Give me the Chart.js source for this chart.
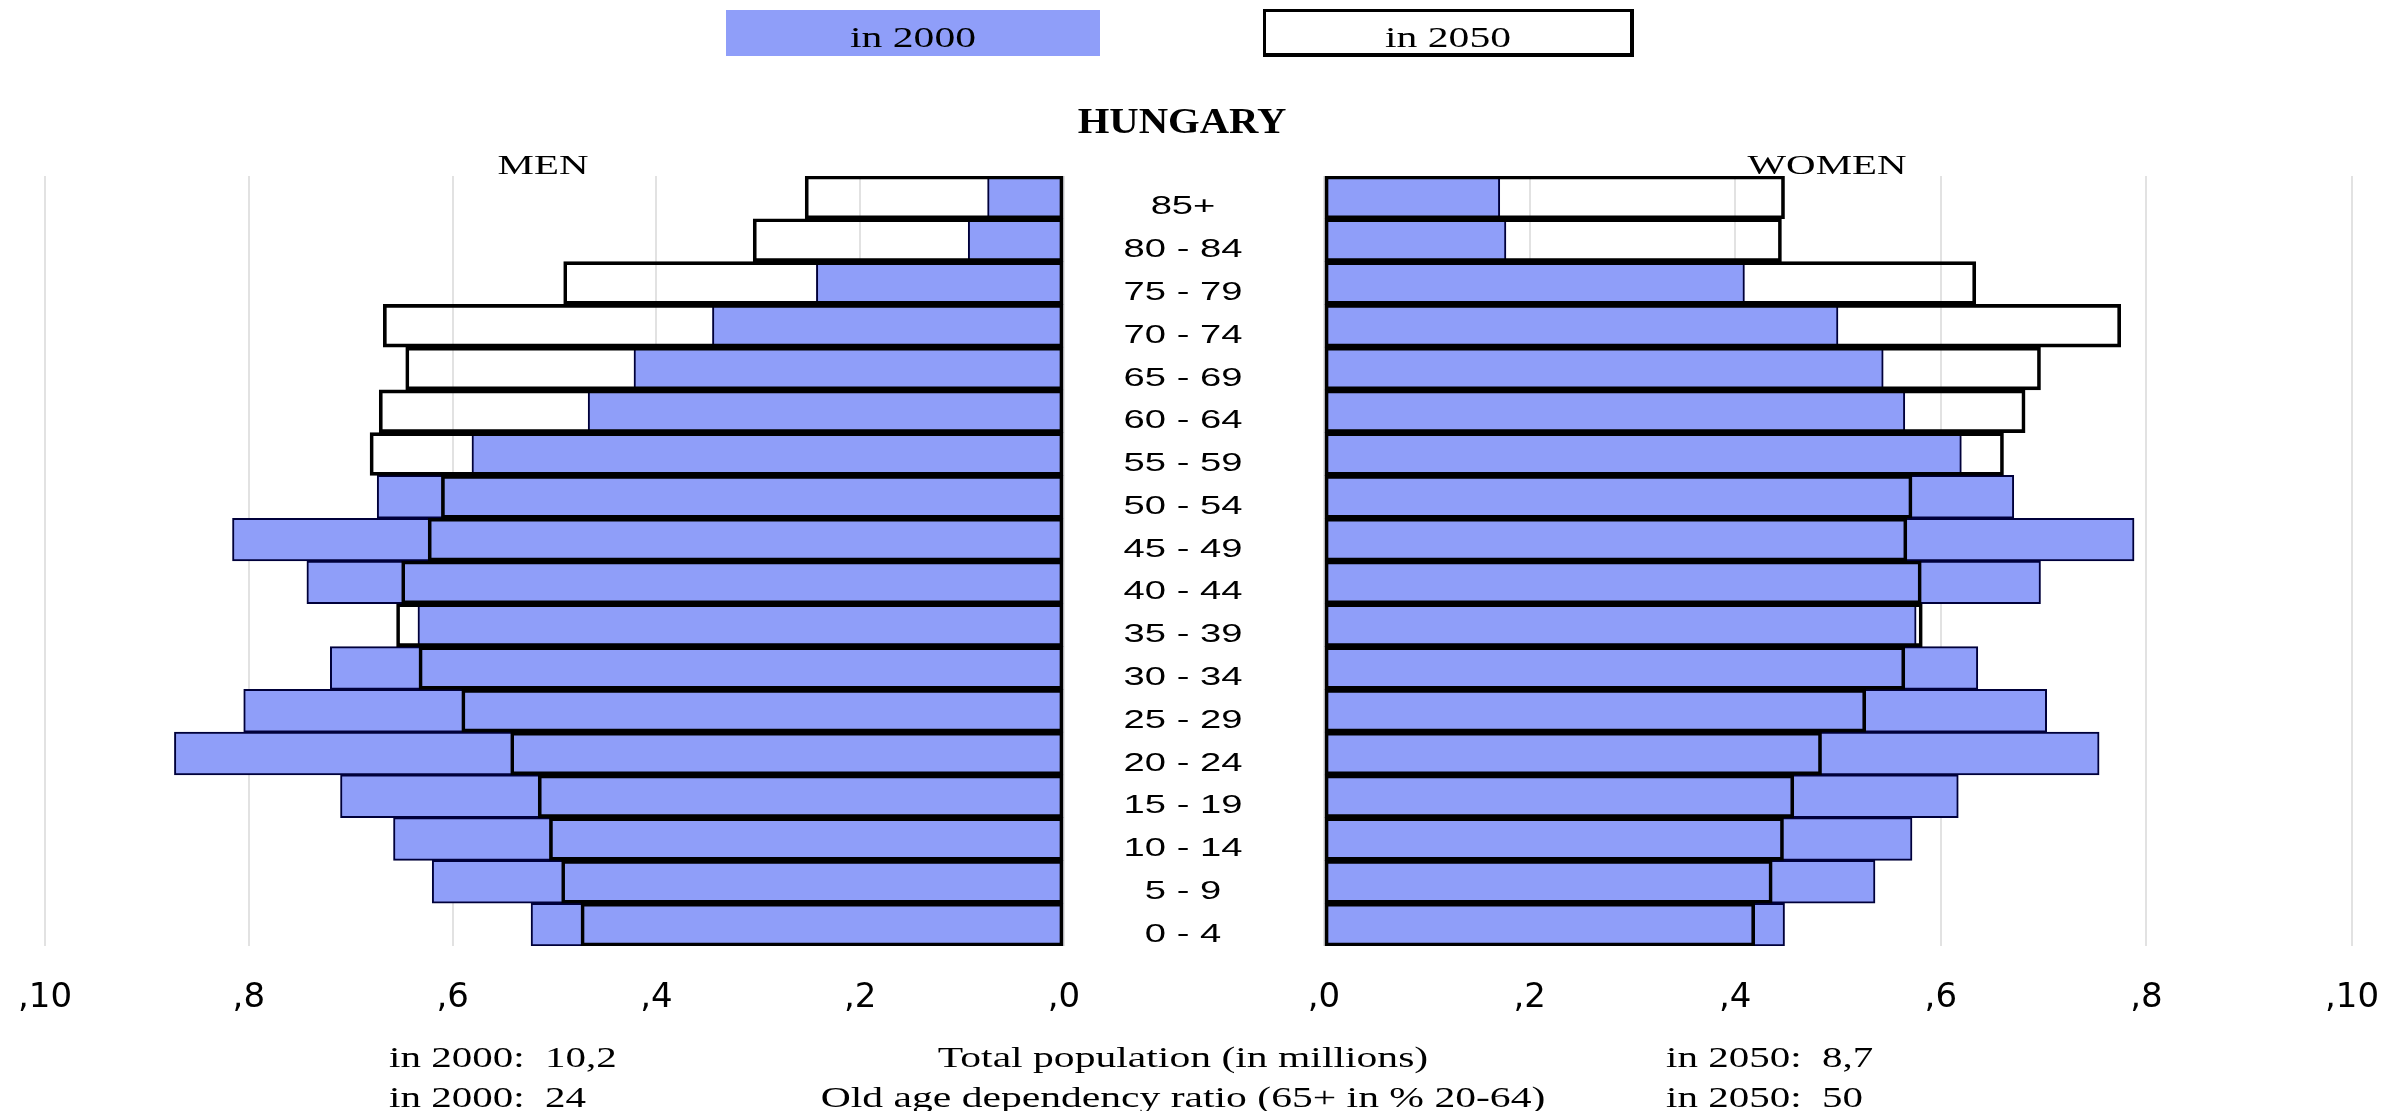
<!DOCTYPE html>
<html>
<head>
<meta charset="utf-8">
<script src="https://cdn.jsdelivr.net/npm/chart.js@4.4.1/dist/chart.umd.min.js"></script>
<style>
  html, body { margin: 0; padding: 0; background: #ffffff; }
  #wrap { position: relative; width: 2408px; height: 1111px; overflow: hidden; }
  #wrap canvas { position: absolute; left: 0; top: 0; }
</style>
</head>
<body>
<div id="wrap">
  <canvas id="men" width="2408" height="1111"></canvas>
  <canvas id="women" width="2408" height="1111"></canvas>
</div>
<script>
// ---------------- DATA ----------------
const ages = ["85+", "80 - 84", "75 - 79", "70 - 74", "65 - 69", "60 - 64", "55 - 59", "50 - 54", "45 - 49",
              "40 - 44", "35 - 39", "30 - 34", "25 - 29", "20 - 24", "15 - 19", "10 - 14", "5 - 9", "0 - 4"];
const men2000   = [0.075, 0.094, 0.243, 0.345, 0.422, 0.467, 0.581, 0.674, 0.816, 0.743, 0.634, 0.720, 0.805, 0.873, 0.710, 0.658, 0.620, 0.523];
const men2050   = [0.254, 0.305, 0.491, 0.668, 0.646, 0.672, 0.681, 0.611, 0.624, 0.650, 0.655, 0.633, 0.591, 0.543, 0.516, 0.505, 0.493, 0.474];
const women2000 = [0.171, 0.177, 0.409, 0.500, 0.544, 0.565, 0.620, 0.671, 0.788, 0.697, 0.576, 0.636, 0.703, 0.754, 0.617, 0.572, 0.536, 0.448];
const women2050 = [0.448, 0.445, 0.634, 0.775, 0.697, 0.682, 0.661, 0.572, 0.567, 0.581, 0.582, 0.565, 0.527, 0.484, 0.457, 0.447, 0.436, 0.419];
const tickLabels = [",0", ",2", ",4", ",6", ",8", ",10"];
const seriesNames = ["in 2000", "in 2050"];
const titleText = "HUNGARY";
const panelNames = ["MEN", "WOMEN"];
const footerRows = [
  ["in 2000:  10,2", "Total population (in millions)", "in 2050:  8,7"],
  ["in 2000:  24", "Old age dependency ratio (65+ in % 20-64)", "in 2050:  50"]
];

// ---------------- STYLE ----------------
const BLUE = "#8f9ef9";
const NAVY = "#00003a";
const GRID = "#e2e2e2";
const TICK_STEP = 0.2;
const W = 2408;

function drawStretched(ctx, text, x, y, font, sx, align) {
  ctx.save();
  ctx.font = font;
  ctx.fillStyle = "#000";
  ctx.textBaseline = "alphabetic";
  ctx.textAlign = "left";
  const w = ctx.measureText(text).width * sx;
  const left = align === "center" ? x - w / 2 : (align === "right" ? x - w : x);
  ctx.translate(left, y);
  ctx.scale(sx, 1);
  ctx.fillText(text, 0, 0);
  ctx.restore();
}

const textPlugin = {
  id: "texts",
  afterDraw(chart) {
    const ctx = chart.ctx;
    // legend boxes
    ctx.save();
    ctx.fillStyle = BLUE;
    ctx.fillRect(726, 10, 374, 46);
    ctx.fillStyle = "#fff";
    ctx.fillRect(1264, 10, 368, 45);
    ctx.strokeStyle = "#000";
    ctx.lineWidth = 3;
    ctx.strokeRect(1264.5, 10.5, 367, 44);
    ctx.fillStyle = "#000";
    ctx.fillRect(1263, 53, 371, 4);
    ctx.fillRect(1630, 9, 4, 48);
    ctx.restore();
    const serif = '"Liberation Serif", "Times New Roman", serif';
    drawStretched(ctx, seriesNames[0], 913, 47, "29.5px " + serif, 1.41, "center");
    drawStretched(ctx, seriesNames[1], 1448, 47, "29.5px " + serif, 1.41, "center");
    // title and panel names
    drawStretched(ctx, titleText, 1182, 133, "bold 36px " + serif, 1.13, "center");
    drawStretched(ctx, panelNames[0], 543, 174, "28px " + serif, 1.46, "center");
    drawStretched(ctx, panelNames[1], 1827, 174, "28px " + serif, 1.46, "center");
    // age labels placed with the library's category scale
    const yScale = chart.scales.y;
    ages.forEach((a, i) => {
      drawStretched(ctx, a, 1183, yScale.getPixelForValue(i) + 17, '26.5px "Liberation Sans", Arial, sans-serif', 1.44, "center");
    });
    // footer
    const fy = [1067, 1107];
    footerRows.forEach((row, r) => {
      drawStretched(ctx, row[0], 389, fy[r], "29.5px " + serif, 1.39, "left");
      drawStretched(ctx, row[1], 1183, fy[r], "29.5px " + serif, 1.41, "center");
      drawStretched(ctx, row[2], 1666, fy[r], "29.5px " + serif, 1.39, "left");
    });
  }
};

function makeChart(id, d2000, d2050, reverse, padLeft, padRight, plugins) {
  return new Chart(document.getElementById(id), {
    type: "bar",
    data: {
      labels: ages,
      datasets: [
        { label: seriesNames[0], data: d2000, backgroundColor: BLUE, borderColor: NAVY, borderWidth: 2,
          borderSkipped: false, grouped: false, categoryPercentage: 1, barPercentage: 1, order: 2 },
        { label: seriesNames[1], data: d2050, backgroundColor: "rgba(255,255,255,0)", borderColor: "#000", borderWidth: 3,
          borderSkipped: false, grouped: false, categoryPercentage: 1, barPercentage: 1, order: 1 }
      ]
    },
    options: {
      indexAxis: "y",
      responsive: false,
      maintainAspectRatio: false,
      animation: false,
      devicePixelRatio: 1,
      layout: { padding: { left: padLeft, right: padRight, top: 176, bottom: 61 } },
      plugins: { legend: { display: false }, tooltip: { enabled: false } },
      scales: {
        x: {
          type: "linear", min: 0, max: 1, reverse: reverse,
          grid: { color: GRID, lineWidth: 2, drawTicks: false },
          border: { display: false },
          afterFit: (scale) => { scale.paddingLeft = 0; scale.paddingRight = 0; },
          ticks: {
            stepSize: TICK_STEP, autoSkip: false, maxRotation: 0, padding: 31.6, color: "#000",
            font: { family: '"DejaVu Sans", sans-serif', size: 34 },
            callback: (v) => tickLabels[Math.round(v / TICK_STEP)]
          }
        },
        y: { display: false, grid: { display: false } }
      }
    },
    plugins: plugins
  });
}

makeChart("men", men2000, men2050, true, 45, W - 1064, [textPlugin]);
makeChart("women", women2000, women2050, false, 1324, W - 2352, []);
</script>
</body>
</html>
